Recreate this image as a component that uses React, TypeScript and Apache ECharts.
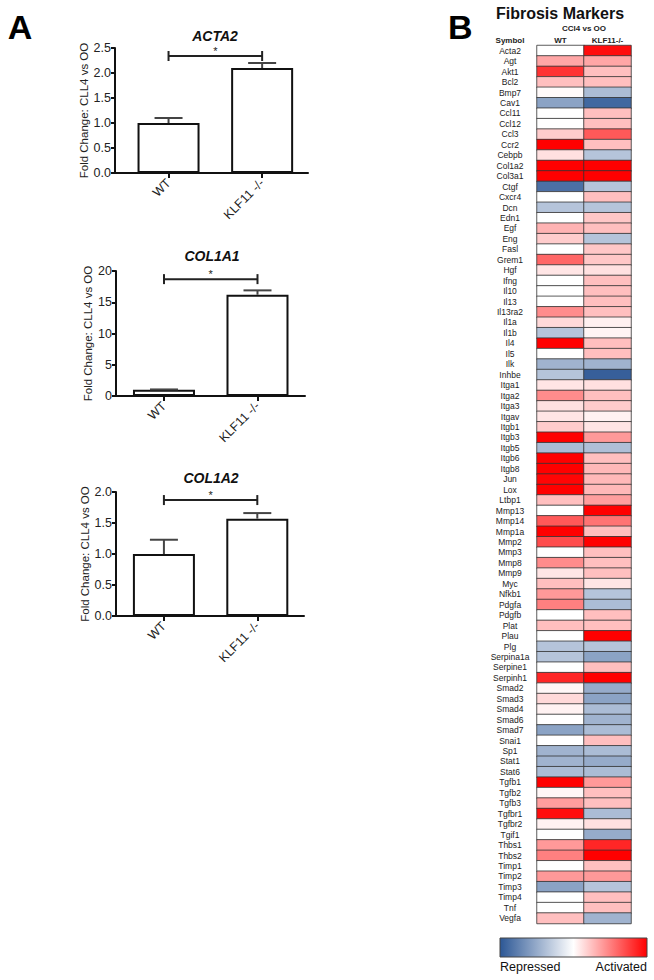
import React, { useEffect, useRef } from "react";
import * as echarts from "echarts";

const FONT = "Liberation Sans, Arial, sans-serif";

const barCategories = ["WT", "KLF11 -/-"];
const barTitles = ["ACTA2", "COL1A1", "COL1A2"];
const acta2Mean = [1.0, 2.1];
const acta2Err = [0.1, 0.1];
const col1a1Mean = [1.0, 16.2];
const col1a1Err = [0.05, 0.7];
const col1a2Mean = [1.0, 1.57];
const col1a2Err = [0.23, 0.09];
const bracketLevels = [2.34, 18.7, 1.87];
const yMax = [2.5, 20, 2.0];
const yStep = [0.5, 5, 0.5];
const yDecimals = [1, 0, 1];

const heatColumns = ["WT", "KLF11-/-"];
const symbols = ["Acta2","Agt","Akt1","Bcl2","Bmp7","Cav1","Ccl11","Ccl12","Ccl3","Ccr2","Cebpb","Col1a2","Col3a1","Ctgf","Cxcr4","Dcn","Edn1","Egf","Eng","Fasl","Grem1","Hgf","Ifng","Il10","Il13","Il13ra2","Il1a","Il1b","Il4","Il5","Ilk","Inhbe","Itga1","Itga2","Itga3","Itgav","Itgb1","Itgb3","Itgb5","Itgb6","Itgb8","Jun","Lox","Ltbp1","Mmp13","Mmp14","Mmp1a","Mmp2","Mmp3","Mmp8","Mmp9","Myc","Nfkb1","Pdgfa","Pdgfb","Plat","Plau","Plg","Serpina1a","Serpine1","Serpinh1","Smad2","Smad3","Smad4","Smad6","Smad7","Snai1","Sp1","Stat1","Stat6","Tgfb1","Tgfb2","Tgfb3","Tgfbr1","Tgfbr2","Tgif1","Thbs1","Thbs2","Timp1","Timp2","Timp3","Timp4","Tnf","Vegfa"];
const wtValues = [0, 0.35, 0.8, 0.25, 0.02, -0.55, 0, 0, 0.2, 1,
  0.12, 1, 1, -0.85, 0, -0.35, 0, 0.3, 0.2, 0,
  0.6, 0.1, 0, 0, 0, 0.45, 0.15, -0.35, 1, 0,
  -0.45, -0.35, 0.1, 0.45, 0.12, 0.1, 0.2, 1, -0.4, 1,
  1, 0.98, 1, 0.25, 0, 0.65, 1, 0.7, 0, 0.45,
  0.1, 0.25, 0.4, 0.5, 0, 0.25, 0, -0.35, -0.35, 0,
  0.85, 0.03, 0.15, 0.05, 0, -0.55, 0, -0.45, -0.45, -0.4,
  1, 0.03, 0.38, 0.95, 0.05, 0, 0.4, 0.5, 0, 0.4,
  -0.55, 0, 0, 0.25];
const koValues = [0.95, 0.35, 0.25, 0.25, -0.4, -0.9, 0.25, 0.25, 0.65, 0.25,
  -0.35, 1, 1, -0.35, 0.25, -0.35, 0.22, 0.25, -0.35, 0.22,
  0.22, 0.12, 0.25, 0.25, 0.25, 0.25, 0.06, 0.04, 0.25, 0.25,
  -0.45, -0.95, 0.12, 0.25, 0.2, 0.05, 0.1, 0.4, -0.38, 0.25,
  0.28, 0.28, 0.28, 0.38, 1, 0.55, 0.25, 1, 0.25, 0.25,
  0.25, 0.1, -0.35, -0.4, 0.25, 0.25, 1, -0.35, -0.55, 0.25,
  1, -0.5, -0.55, -0.4, -0.45, -0.4, 0.25, -0.4, -0.5, -0.4,
  0.4, 0.25, 0.25, -0.4, 0.12, -0.5, 0.85, 1, 0.25, 0.4,
  -0.35, 0.25, 0.25, -0.45];
const scaleLabels = ["Repressed", "Activated"];

const BLUE = "#2c5795";

export default function App() {
  const ref = useRef<HTMLDivElement>(null);
  useEffect(() => {
    if (!ref.current) return;
    const chart = echarts.init(ref.current, null, { renderer: "svg" });

    const means = [acta2Mean, col1a1Mean, col1a2Mean];
    const errs = [acta2Err, col1a1Err, col1a2Err];
    const grids = [
      { left: 115, top: 48, width: 193, height: 125, xmin: -0.572, xmax: 1.49, tx: 215, ty: 36 },
      { left: 116, top: 271, width: 189, height: 125, xmin: -0.513, xmax: 1.508, tx: 212, ty: 256 },
      { left: 116, top: 492, width: 188, height: 124, xmin: -0.513, xmax: 1.5, tx: 211, ty: 478 },
    ];

    const gridOpts: any[] = [];
    const xAxes: any[] = [];
    const yAxes: any[] = [];
    const series: any[] = [];
    const graphics: any[] = [];

    grids.forEach((g, i) => {
      gridOpts.push({ left: g.left, top: g.top, width: g.width, height: g.height });
      xAxes.push({
        type: "value", gridIndex: i, min: g.xmin, max: g.xmax,
        axisLine: { show: true, lineStyle: { color: "#111", width: 2 } },
        axisTick: { show: true, customValues: [0, 1], length: 5, lineStyle: { color: "#111", width: 2 } },
        axisLabel: {
          customValues: [0, 1], rotate: 45, margin: 8, fontSize: 12.5, color: "#222", fontFamily: FONT,
          formatter: (v: number) => barCategories[Math.round(v)] ?? "",
        },
        splitLine: { show: false },
      });
      yAxes.push({
        type: "value", gridIndex: i, min: 0, max: yMax[i], interval: yStep[i],
        axisLine: { show: true, onZero: false, lineStyle: { color: "#111", width: 2 } },
        axisTick: { show: true, length: 4, lineStyle: { color: "#111", width: 2 } },
        axisLabel: { fontSize: 12.5, color: "#222", margin: 4, fontFamily: FONT, formatter: (v: number) => v.toFixed(yDecimals[i]) },
        splitLine: { show: false },
        name: "Fold Change: CLL4 vs OO", nameLocation: "middle", nameGap: 17,
        nameTextStyle: { fontSize: 11.5, color: "#222", fontFamily: FONT },
      });
      series.push({
        type: "bar", xAxisIndex: i, yAxisIndex: i, barWidth: 62,
        data: means[i].map((m, k) => [k, m]),
        itemStyle: { color: "#fff", borderColor: "#111", borderWidth: 2 },
        z: 2,
      });
      series.push({
        type: "custom", xAxisIndex: i, yAxisIndex: i,
        data: means[i].map((m, k) => [k, m, errs[i][k]]),
        encode: { x: 0, y: 1 },
        z: 3,
        renderItem: (_p: any, api: any) => {
          const x = api.value(0), m = api.value(1), e = api.value(2);
          const base = api.coord([x, m]);
          const top = api.coord([x, m + e]);
          const half = 14;
          return {
            type: "group",
            children: [
              { type: "line", shape: { x1: base[0], y1: base[1], x2: top[0], y2: top[1] }, style: { stroke: "#444", lineWidth: 2 } },
              { type: "line", shape: { x1: top[0] - half, y1: top[1], x2: top[0] + half, y2: top[1] }, style: { stroke: "#444", lineWidth: 2 } },
            ],
          };
        },
      });
      series.push({
        type: "custom", xAxisIndex: i, yAxisIndex: i,
        data: [[0, 1, bracketLevels[i]]],
        encode: { x: [0, 1], y: 2 },
        z: 3,
        renderItem: (_p: any, api: any) => {
          const a = api.coord([api.value(0), api.value(2)]);
          const b = api.coord([api.value(1), api.value(2)]);
          const s = { stroke: "#222", lineWidth: 2 };
          return {
            type: "group",
            children: [
              { type: "line", shape: { x1: a[0], y1: a[1], x2: b[0], y2: b[1] }, style: s },
              { type: "line", shape: { x1: a[0], y1: a[1] - 5, x2: a[0], y2: a[1] + 5 }, style: s },
              { type: "line", shape: { x1: b[0], y1: b[1] - 5, x2: b[0], y2: b[1] + 5 }, style: s },
              { type: "text", x: (a[0] + b[0]) / 2, y: a[1] - 11, style: { text: "*", align: "center", verticalAlign: "top", fontSize: 11, fontFamily: FONT, fill: "#222" } },
            ],
          };
        },
      });
      graphics.push({
        type: "text", x: g.tx, y: g.ty,
        style: { text: barTitles[i], align: "center", verticalAlign: "middle", font: `italic bold 14px ${FONT}`, fill: "#111" },
      });
    });

    // heatmap
    const hIdx = gridOpts.length;
    gridOpts.push({ left: 537, top: 45.5, width: 94, height: 878 });
    xAxes.push({
      type: "category", gridIndex: hIdx, data: heatColumns, position: "top",
      axisLine: { show: false }, axisTick: { show: false },
      axisLabel: { fontSize: 8, fontWeight: "bold", color: "#222", margin: 1, fontFamily: FONT },
      splitLine: { show: false },
    });
    yAxes.push({
      type: "category", gridIndex: hIdx, data: symbols, inverse: true,
      axisLine: { show: false }, axisTick: { show: false },
      axisLabel: { fontSize: 8.5, color: "#222", align: "center", margin: 27, interval: 0, fontFamily: FONT },
      splitLine: { show: false },
    });
    const heatData: any[] = [];
    symbols.forEach((_s, r) => {
      heatData.push([0, r, wtValues[r]]);
      heatData.push([1, r, koValues[r]]);
    });
    const heatSeriesIndex = series.length;
    series.push({
      type: "heatmap", xAxisIndex: hIdx, yAxisIndex: hIdx, data: heatData,
      itemStyle: { borderColor: "#333", borderWidth: 0.8 },
    });

    graphics.push(
      { type: "text", x: 20, y: 27, style: { text: "A", align: "center", verticalAlign: "middle", font: `bold 34px ${FONT}`, fill: "#000" } },
      { type: "text", x: 448, y: 27, style: { text: "B", align: "left", verticalAlign: "middle", font: `bold 34px ${FONT}`, fill: "#000" } },
      { type: "text", x: 560, y: 13, style: { text: "Fibrosis Markers", align: "center", verticalAlign: "middle", font: `bold 16px ${FONT}`, fill: "#111" } },
      { type: "text", x: 584, y: 28, style: { text: "CCl4 vs OO", align: "center", verticalAlign: "middle", font: `bold 8px ${FONT}`, fill: "#222" } },
      { type: "text", x: 510, y: 40.5, style: { text: "Symbol", align: "center", verticalAlign: "middle", font: `bold 8px ${FONT}`, fill: "#222" } },
      {
        type: "rect", shape: { x: 500, y: 938, width: 147, height: 19 },
        style: {
          fill: new echarts.graphic.LinearGradient(0, 0, 1, 0, [
            { offset: 0, color: BLUE },
            { offset: 0.5, color: "#ffffff" },
            { offset: 1, color: "#ff0000" },
          ]),
          stroke: "#444", lineWidth: 1,
        },
      },
      { type: "text", x: 500, y: 967, style: { text: scaleLabels[0], align: "left", verticalAlign: "middle", font: `12.5px ${FONT}`, fill: "#111" } },
      { type: "text", x: 647, y: 967, style: { text: scaleLabels[1], align: "right", verticalAlign: "middle", font: `12.5px ${FONT}`, fill: "#111" } },
    );

    chart.setOption({
      animation: false,
      backgroundColor: "#fff",
      textStyle: { fontFamily: FONT },
      grid: gridOpts,
      xAxis: xAxes,
      yAxis: yAxes,
      visualMap: {
        type: "continuous", show: false, min: -1, max: 1, dimension: 2,
        seriesIndex: heatSeriesIndex,
        inRange: { color: [BLUE, "#ffffff", "#ff0000"] },
      },
      series,
      graphic: graphics,
    });
    return () => chart.dispose();
  }, []);
  return <div ref={ref} style={{ position: "absolute", left: 0, top: 0, width: 654, height: 980 }} />;
}
